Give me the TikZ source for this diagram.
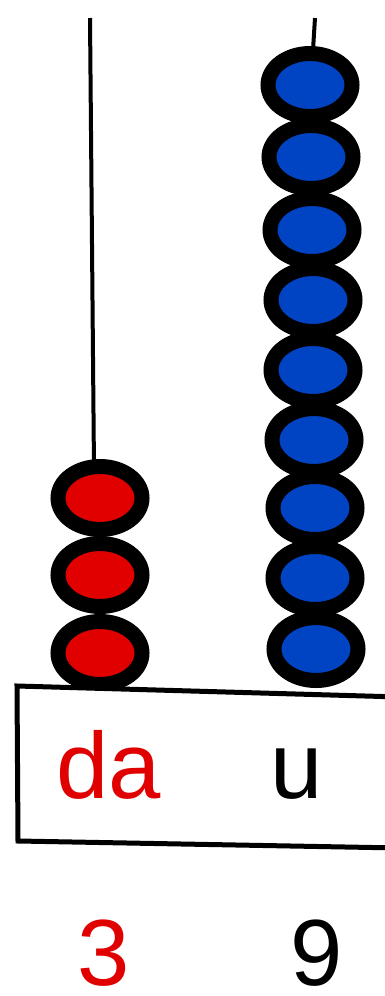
\documentclass[tikz,border=0pt]{standalone}
\usepackage{fontspec}
\setmainfont{Liberation Sans}
\usetikzlibrary{shapes.geometric}
\definecolor{beadred}{RGB}{224,0,0}
\definecolor{beadblue}{RGB}{0,68,196}
\tikzset{
  rod/.style={line width=4pt, black},
  bead/.style={ellipse, draw=black, line width=15pt, minimum width=84pt, minimum height=63pt, inner sep=0pt},
  redbead/.style={bead, fill=beadred},
  bluebead/.style={bead, fill=beadblue},
  lbl/.style={anchor=base, font=\fontsize{94}{94}\selectfont, inner sep=0pt, text depth=0pt},
}
\begin{document}
\begin{tikzpicture}[x=1pt,y=-1pt]
\useasboundingbox (0,0) rectangle (385,996);
% rods
\coordinate (ltop) at (90,18);
\coordinate (lbot) at (94,470);
\coordinate (rtop) at (315,18);
\coordinate (rbot) at (313,50);
\draw[rod] (ltop) -- (lbot);
\draw[rod] (rtop) -- (rbot);
% red beads
\foreach \i/\y in {1/498,2/575,3/653}{
  \node[redbead] (r\i) at (100,\y) {};
}
% blue beads
\foreach \i/\y/\x in {1/85/310,2/157/311,3/230/312,4/300/313,5/370/313,6/440/314,7/508/315,8/578/315,9/649/316}{
  \node[bluebead] (b\i) at (\x,\y) {};
}
% base box
\coordinate (bl1) at (17,686);
\coordinate (bl2) at (400,697);
\coordinate (bl3) at (400,848);
\coordinate (bl4) at (18,841);
\draw[line width=5pt, fill=white, line join=miter] (bl1) -- (bl2) -- (bl3) -- (bl4) -- cycle;
% labels
\node[lbl, text=beadred] (da) at (109,798) {da};
\node[lbl, text=black] (u) at (297,798) {u};
\node[lbl, text=beadred] (n3) at (104,985) {3};
\node[lbl, text=black] (n9) at (317,985) {9};
\end{tikzpicture}
\end{document}
